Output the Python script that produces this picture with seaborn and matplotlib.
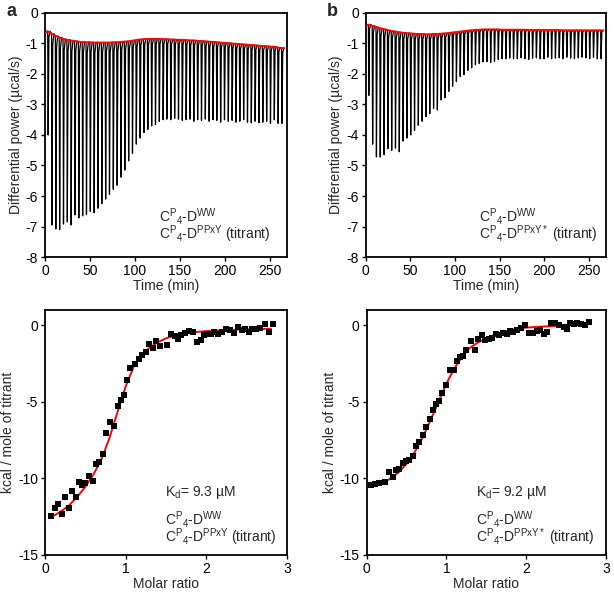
import numpy as np
import pandas as pd
import seaborn as sns
import matplotlib.pyplot as plt

# ---------------- data ----------------

# injection schedule (min), same for both titrations
inj_time = np.linspace(3, 263, 62)

# panel a (top): peak depth and baseline of each injection (ucal/s)
peak_a = [-4.0, -6.95, -7.08, -7.1, -6.92, -6.85, -6.95, -6.62, -6.72, -6.65,
          -6.6, -6.5, -6.55, -6.4, -6.25, -6.1, -5.95, -5.78, -5.65, -5.38,
          -5.15, -4.85, -4.6, -4.3, -4.1, -3.92, -3.82, -3.7, -3.65, -3.55,
          -3.5, -3.48, -3.5, -3.45, -3.48, -3.52, -3.5, -3.48, -3.55, -3.5,
          -3.52, -3.48, -3.55, -3.5, -3.52, -3.58, -3.5, -3.55, -3.52, -3.58,
          -3.55, -3.5, -3.58, -3.6, -3.55, -3.6, -3.58, -3.55, -3.62, -3.5,
          -3.62, -3.62]
base_a = [-0.6, -0.68, -0.75, -0.8, -0.85, -0.88, -0.9, -0.92, -0.94, -0.95,
          -0.96, -0.96, -0.97, -0.97, -0.97, -0.97, -0.97, -0.96, -0.96, -0.95,
          -0.94, -0.93, -0.91, -0.89, -0.87, -0.86, -0.85, -0.85, -0.85, -0.85,
          -0.86, -0.86, -0.87, -0.87, -0.88, -0.88, -0.89, -0.9, -0.9, -0.91,
          -0.92, -0.93, -0.94, -0.95, -0.96, -0.97, -0.98, -0.99, -1.0, -1.01,
          -1.02, -1.03, -1.04, -1.05, -1.06, -1.07, -1.08, -1.09, -1.1, -1.11,
          -1.13, -1.15]

# panel b (top)
peak_b = [-2.7, -4.3, -4.72, -4.72, -4.65, -4.45, -4.5, -4.43, -4.55, -4.2,
          -4.1, -4.0, -3.85, -3.68, -3.55, -3.4, -3.3, -3.13, -3.18, -2.85,
          -2.78, -2.57, -2.4, -2.25, -2.08, -2.02, -1.88, -1.8, -1.7, -1.65,
          -1.6, -1.6, -1.62, -1.58, -1.52, -1.5, -1.5, -1.48, -1.5, -1.5,
          -1.47, -1.5, -1.52, -1.48, -1.47, -1.5, -1.5, -1.45, -1.5, -1.48,
          -1.47, -1.5, -1.45, -1.48, -1.5, -1.47, -1.45, -1.47, -1.5, -1.45,
          -1.5, -1.5]
base_b = [-0.38, -0.42, -0.46, -0.5, -0.53, -0.56, -0.59, -0.61, -0.63, -0.65,
          -0.66, -0.67, -0.68, -0.69, -0.69, -0.7, -0.7, -0.69, -0.69, -0.68,
          -0.67, -0.66, -0.64, -0.63, -0.61, -0.6, -0.58, -0.57, -0.56, -0.55,
          -0.54, -0.54, -0.54, -0.54, -0.54, -0.55, -0.55, -0.55, -0.55, -0.55,
          -0.55, -0.55, -0.56, -0.56, -0.56, -0.56, -0.56, -0.56, -0.56, -0.56,
          -0.56, -0.57, -0.57, -0.57, -0.57, -0.57, -0.57, -0.57, -0.57, -0.57,
          -0.57, -0.57]

# panel a (bottom): integrated heats
ratio_a = [0.08, 0.12, 0.16, 0.21, 0.25, 0.30, 0.33, 0.38, 0.42, 0.46,
           0.50, 0.54, 0.59, 0.63, 0.67, 0.72, 0.76, 0.80, 0.85, 0.90,
           0.94, 0.98, 1.02, 1.06, 1.11, 1.16, 1.20, 1.25, 1.29, 1.34,
           1.38, 1.42, 1.51, 1.56, 1.61, 1.65, 1.69, 1.74, 1.79, 1.84,
           1.88, 1.93, 1.97, 2.01, 2.06, 2.10, 2.15, 2.20, 2.25, 2.29,
           2.34, 2.39, 2.44, 2.48, 2.53, 2.57, 2.62, 2.66, 2.73, 2.78, 2.83]
heat_a = [-12.46, -11.96, -11.67, -12.35, -11.24, -11.91, -10.83, -11.24, -10.22, -10.43,
          -10.33, -9.85, -10.15, -9.07, -8.91, -8.41, -7.0, -6.3, -6.59, -5.28,
          -4.85, -4.52, -3.59, -2.78, -2.5, -2.17, -1.96, -1.74, -1.24, -1.48,
          -1.02, -1.37, -1.26, -0.54, -0.72, -0.87, -0.61, -0.5, -0.37, -0.43,
          -1.09, -0.93, -0.61, -0.54, -0.54, -0.43, -0.54, -0.43, -0.22, -0.33,
          -0.48, -0.11, -0.33, -0.26, -0.43, -0.26, -0.22, -0.17, 0.1, -0.43, 0.1]
fit_ra = [0.12, 0.2, 0.3, 0.4, 0.5, 0.6, 0.7, 0.8, 0.9, 1.0, 1.1, 1.2, 1.3,
          1.4, 1.5, 1.6, 1.7, 1.8, 1.9, 2.0, 2.2, 2.4, 2.6, 2.8]
fit_a = [-12.4, -12.15, -11.75, -11.2, -10.55, -9.75, -8.75, -7.35, -5.65, -4.0,
         -2.7, -1.95, -1.45, -1.1, -0.85, -0.68, -0.56, -0.48, -0.42, -0.38,
         -0.32, -0.28, -0.25, -0.22]

# panel b (bottom)
ratio_b = [0.06, 0.10, 0.15, 0.23, 0.28, 0.33, 0.37, 0.41, 0.45, 0.49,
           0.53, 0.58, 0.62, 0.66, 0.70, 0.74, 0.79, 0.83, 0.87, 0.91,
           0.95, 1.00, 1.04, 1.09, 1.13, 1.17, 1.21, 1.25, 1.31, 1.36,
           1.40, 1.44, 1.48, 1.53, 1.57, 1.62, 1.66, 1.71, 1.76, 1.80,
           1.84, 1.89, 1.94, 1.99, 2.04, 2.08, 2.13, 2.17, 2.22, 2.26,
           2.31, 2.36, 2.41, 2.47, 2.51, 2.55, 2.60, 2.64, 2.69, 2.74, 2.79]
heat_b = [-10.43, -10.37, -10.28, -10.26, -9.57, -9.93, -9.46, -9.41, -9.02, -8.85,
          -8.8, -8.54, -7.89, -7.61, -7.17, -6.67, -6.15, -5.5, -5.17, -4.96,
          -4.41, -3.87, -2.89, -2.89, -2.35, -2.07, -2.02, -1.59, -1.02, -1.59,
          -0.87, -0.65, -0.98, -0.87, -0.8, -0.54, -0.61, -0.48, -0.54, -0.37,
          -0.43, -0.28, -0.15, 0.04, -0.48, -0.5, -0.37, -0.28, -0.54, -0.43,
          0.17, 0.17, 0.04, -0.11, -0.22, 0.17, 0.1, 0.15, 0.1, 0.04, 0.22]
fit_rb = [0.06, 0.2, 0.3, 0.4, 0.5, 0.6, 0.7, 0.8, 0.9, 1.0, 1.1, 1.2, 1.3,
          1.4, 1.5, 1.6, 1.8, 2.0, 2.2, 2.4, 2.6, 2.76]
fit_b = [-10.45, -10.3, -10.0, -9.6, -9.05, -8.3, -7.35, -6.2, -5.0, -3.8,
         -2.8, -2.0, -1.45, -1.1, -0.85, -0.62, -0.3, -0.15, -0.08, -0.03, 0.0, 0.0]

kd_a = "9.3"
kd_b = "9.2"
titrant_a = "PPxY"
titrant_b = "PPxY*"

# ---------------- style ----------------
sns.set_style("ticks")
plt.rcParams['font.family'] = ['Liberation Sans', 'DejaVu Sans']
plt.rcParams['mathtext.fontset'] = 'custom'
plt.rcParams['mathtext.rm'] = 'Liberation Sans'
plt.rcParams['mathtext.it'] = 'Liberation Sans:italic'
plt.rcParams['axes.unicode_minus'] = False
plt.rcParams['font.size'] = 10
plt.rcParams['axes.linewidth'] = 1.3
plt.rcParams['xtick.major.size'] = 3
plt.rcParams['ytick.major.size'] = 3
plt.rcParams['xtick.color'] = 'black'
plt.rcParams['ytick.color'] = 'black'
plt.rcParams['axes.edgecolor'] = 'black'


def thermogram(base, peak):
    # rebuild the raw trace: sharp drop at each injection, fast recovery
    xs, ys = [0.0], [base[0]]
    for t, b, p in zip(inj_time, base, peak):
        xs += [t, t + 0.5, t + 1.3, t + 2.6]
        ys += [b, p, b + 0.06 * (p - b), b]
    xs.append(266.0)
    ys.append(base[-1])
    return pd.DataFrame({"time": xs, "power": ys})


def label_lines(sup):
    # C^P_4-D^WW  /  C^P_4-D^sup (titrant)
    first = r"C$^{\rm P}{}_{\rm 4}$-D$^{\rm WW}$"
    second = r"C$^{\rm P}{}_{\rm 4}$-D$^{\rm " + sup + "}$ (titrant)"
    return first, second


fig = plt.figure(figsize=(6.14, 5.93), dpi=100)
ax_a = fig.add_axes([0.0733, 0.5666, 0.394, 0.4115])
ax_b = fig.add_axes([0.5956, 0.5666, 0.3914, 0.4115])
ax_c = fig.add_axes([0.0733, 0.0641, 0.394, 0.4131])
ax_d = fig.add_axes([0.5972, 0.0641, 0.3898, 0.4131])

# top: raw thermograms
for ax, base, peak, sup in [(ax_a, base_a, peak_a, titrant_a),
                            (ax_b, base_b, peak_b, titrant_b)]:
    df = thermogram(base, peak)
    sns.lineplot(data=df, x="time", y="power", sort=False, estimator=None,
                 color="black", linewidth=0.9, ax=ax)
    bl = pd.DataFrame({"time": [0.0] + list(inj_time) + [266.0],
                       "power": [base[0] - 0.05] + list(base) + [base[-1]]})
    sns.lineplot(data=bl, x="time", y="power", sort=False, estimator=None,
                 color="red", linewidth=1.4, ax=ax, zorder=3)
    ax.set_xlim(0, 269)
    ax.set_ylim(-8, 0)
    ax.set_xticks([0, 50, 100, 150, 200, 250])
    ax.set_yticks(range(-8, 1))
    ax.set_xlabel("Time (min)", labelpad=1)
    ax.set_ylabel("Differential power (µcal/s)", labelpad=2)
    first, second = label_lines(sup)
    ax.text(127, -6.66, first, va="center", fontsize=10)
    ax.text(127, -7.25, second, va="center", fontsize=10)

# bottom: integrated heats with fit
for ax, rx, hy, fx, fy, kd, sup, xt in [
        (ax_c, ratio_a, heat_a, fit_ra, fit_a, kd_a, titrant_a, 1.49),
        (ax_d, ratio_b, heat_b, fit_rb, fit_b, kd_b, titrant_b, 1.37)]:
    sns.lineplot(x=fx, y=fy, color="red", linewidth=1.4, ax=ax, zorder=2)
    sns.scatterplot(x=rx, y=hy, marker="s", s=22, color="black",
                    edgecolor="black", linewidth=0, ax=ax, zorder=3)
    ax.set_xlim(0, 3)
    ax.set_ylim(-15, 1)
    ax.set_xticks([0, 1, 2, 3])
    ax.set_yticks([-15, -10, -5, 0])
    ax.set_xlabel("Molar ratio", labelpad=1)
    ax.set_ylabel("kcal / mole of titrant", labelpad=2)
    ax.text(xt, -10.9, r"K$_{\rm d}$= " + kd + " µM", va="center", fontsize=10)
    first, second = label_lines(sup)
    ax.text(xt, -12.65, first, va="center", fontsize=10)
    ax.text(xt, -13.85, second, va="center", fontsize=10)

for ax in [ax_a, ax_b, ax_c, ax_d]:
    ax.tick_params(direction="out", width=1, pad=2, labelsize=10)

fig.text(0.018, 0.98, "a", fontsize=13, fontweight="bold", ha="center", va="center")
fig.text(0.541, 0.98, "b", fontsize=13, fontweight="bold", ha="center", va="center")

plt.savefig("out.png", dpi=100)
